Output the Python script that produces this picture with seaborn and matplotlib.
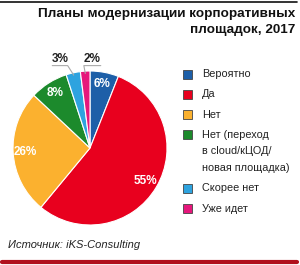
import numpy as np
import seaborn as sns
import matplotlib.pyplot as plt
from matplotlib.lines import Line2D
from matplotlib.patches import Rectangle

# Data
categories = ["Вероятно", "Да", "Нет", "Нет (переход\nв cloud/кЦОД/\nновая площадка)",
              "Скорее нет", "Уже идет"]
values = [6, 55, 26, 8, 3, 2]
colors = ["#1d5fa8", "#e8001e", "#fbb12f", "#1c8a2c", "#2ea3df", "#e6177c"]

title = "Планы модернизации корпоративных\nплощадок, 2017"
source = "Источник: iKS-Consulting"

W, H = 300, 265

sns.set_theme(style="white")
plt.rcParams["font.family"] = ["Liberation Sans", "DejaVu Sans"]

fig = plt.figure(figsize=(W / 100, H / 100), dpi=100)
fig.patch.set_facecolor("white")


def fx(px):
    return px / W


def fy(py):
    return 1 - py / H


# pie axes: centre ~ (90,148) px, radius ~77 px
ax = fig.add_axes([fx(13), fy(225), 154 / W, 154 / H])
wedges, _ = ax.pie(values, colors=colors, startangle=90, counterclock=False,
                   wedgeprops=dict(edgecolor="white", linewidth=0.8))
ax.set_xlim(-1, 1)
ax.set_ylim(-1, 1)
ax.set_aspect("equal")
ax.axis("off")

# labels
for i, (w, v) in enumerate(zip(wedges, values)):
    mid = np.deg2rad((w.theta1 + w.theta2) / 2)
    if v >= 5:
        r = 0.84
        ax.text(r * np.cos(mid), r * np.sin(mid), f"{v}%", color="white",
                fontsize=8.5, fontweight="bold", ha="center", va="center")
    else:
        ex, ey = 0.97 * np.cos(mid), 0.97 * np.sin(mid)
        ly = 1.07
        if i == 4:
            lx = -0.39
            ax.plot([lx - 0.1, lx + 0.1, ex], [ly, ly, ey], color="#aaaaaa",
                    lw=0.8, clip_on=False)
        else:
            lx = 0.03
            ax.plot([ex, lx - 0.11, lx + 0.11], [ey, ly, ly], color="#aaaaaa",
                    lw=0.8, clip_on=False)
        ax.text(lx, ly + 0.005, f"{v}%", color="#222222", fontsize=8.5,
                fontweight="bold", ha="center", va="bottom")

# legend: square aligned with the first line of each entry
y = 74
for cat, col in zip(categories, colors):
    lines = cat.split("\n")
    fig.patches.append(Rectangle((fx(183), fy(y + 4.5)), 9 / W, 9 / H,
                                 transform=fig.transFigure, facecolor=col,
                                 edgecolor="#444444", linewidth=0.6))
    for k, line in enumerate(lines):
        fig.text(fx(202), fy(y + 16.5 * k), line, ha="left", va="center",
                 fontsize=7.8, color="#222222")
    y += 20.3 + 16.5 * (len(lines) - 1)

fig.text(fx(295), fy(8), title, ha="right", va="top", fontsize=9.7,
         fontweight="bold", color="#111111", linespacing=1.45)
fig.text(fx(8), fy(245), source, ha="left", va="center", fontsize=8,
         style="italic", color="#222222")

# decorative rules
fig.add_artist(Line2D([0, fx(297)], [fy(2)] * 2, color="#111111", lw=1.2))
fig.add_artist(Line2D([fx(2), fx(297)], [fy(262)] * 2, color="#b0111d", lw=3))

fig.savefig("out.png", dpi=100, facecolor="white")
